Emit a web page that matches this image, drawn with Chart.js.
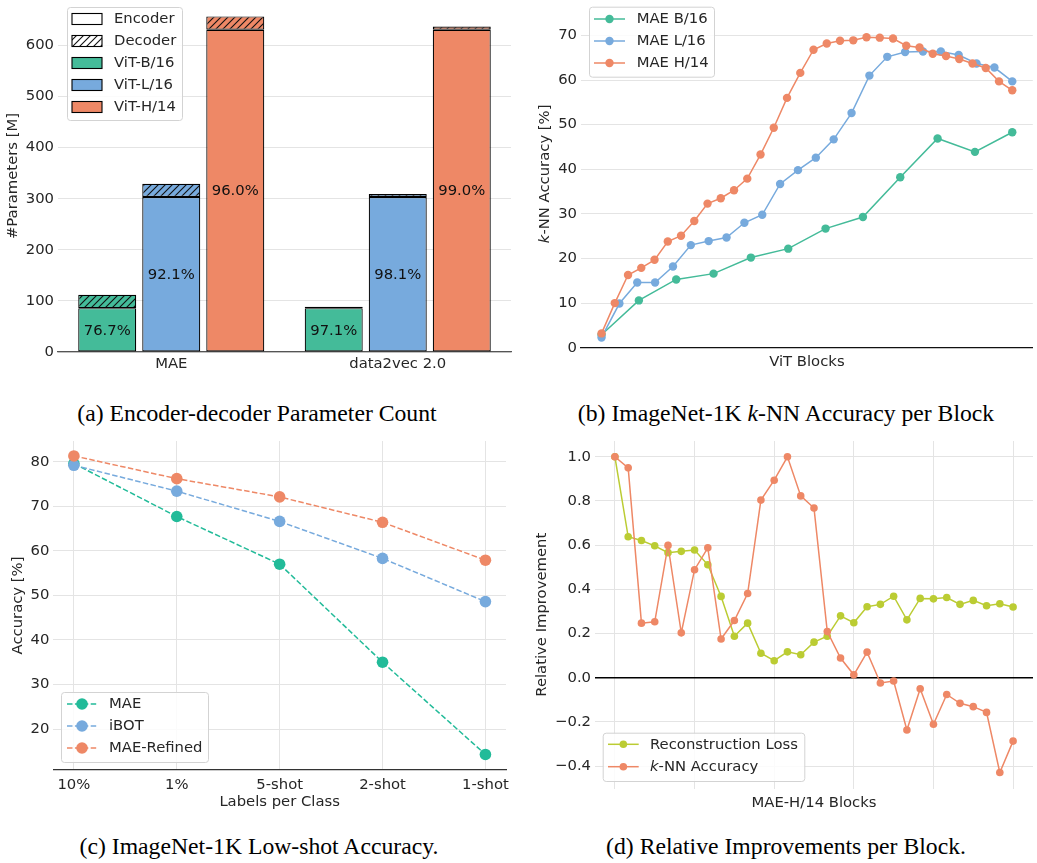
<!DOCTYPE html>
<html><head><meta charset="utf-8">
<script src="https://cdn.jsdelivr.net/npm/chart.js@4.4.1/dist/chart.umd.min.js"></script>
<style>
body{margin:0;background:#fff;width:1037px;height:863px;position:relative;overflow:hidden;}
canvas{position:absolute;display:block;}
.cap{position:absolute;font-family:'Liberation Serif','Times New Roman',serif;font-size:23.7px;line-height:23.7px;white-space:nowrap;transform:translateX(-50%);color:#000;}
</style></head><body>
<canvas id="ca" width="520" height="385" style="left:0;top:0"></canvas>
<canvas id="cb" width="517" height="385" style="left:520px;top:0"></canvas>
<canvas id="cc" width="520" height="385" style="left:0;top:430px"></canvas>
<canvas id="cd" width="517" height="385" style="left:520px;top:430px"></canvas>
<div class="cap" style="left:257px;top:402px">(a) Encoder-decoder Parameter Count</div>
<div class="cap" style="left:786px;top:402px">(b) ImageNet-1K <i>k</i>-NN Accuracy per Block</div>
<div class="cap" style="left:259px;top:835px">(c) ImageNet-1K Low-shot Accuracy.</div>
<div class="cap" style="left:786px;top:835px">(d) Relative Improvements per Block.</div>
<script>
// ---------------- DATA ----------------
const barGroups = ['MAE', 'data2vec 2.0'];
const vitB_encoder = [85.8, 85.8];
const vitB_decoder = [26.1, 2.56];
const vitL_encoder = [303.3, 303.3];
const vitL_decoder = [26.1, 5.87];
const vitH_encoder = [630.8, 630.8];
const vitH_decoder = [26.1, 6.37];
const paramTicks = [0, 100, 200, 300, 400, 500, 600];

const knnB16 = [2.9, 10.6, 15.3, 16.6, 20.2, 22.2, 26.7, 29.3, 38.2, 46.9, 43.9, 48.3];
const knnL16 = [2.3, 9.9, 14.6, 14.6, 18.2, 23.0, 23.9, 24.7, 28.0, 29.8, 36.7, 39.8, 42.6, 46.7, 52.6, 61.0, 65.2, 66.3, 66.4, 66.4, 65.6, 63.7, 62.8, 59.7];
const knnH14 = [3.2, 10.0, 16.3, 17.9, 19.7, 23.8, 25.1, 28.4, 32.3, 33.5, 35.3, 37.9, 43.3, 49.3, 56.0, 61.6, 66.8, 68.2, 68.8, 68.9, 69.6, 69.5, 69.3, 67.7, 67.3, 65.9, 65.4, 64.7, 63.7, 62.7, 59.7, 57.7];

const lowshotLabels = ['10%', '1%', '5-shot', '2-shot', '1-shot'];
const lowshotMAE = [79.6, 67.7, 57.0, 35.0, 14.3];
const lowshotIBOT = [79.2, 73.4, 66.6, 58.3, 48.6];
const lowshotRefined = [81.3, 76.2, 72.1, 66.4, 57.9];

const reconLoss = [1.0, 0.638, 0.621, 0.597, 0.566, 0.572, 0.578, 0.511, 0.368, 0.188, 0.247, 0.111, 0.077, 0.117, 0.104, 0.161, 0.188, 0.280, 0.249, 0.321, 0.332, 0.369, 0.262, 0.359, 0.357, 0.363, 0.332, 0.350, 0.326, 0.335, 0.320];
const knnGain = [1.0, 0.950, 0.247, 0.253, 0.599, 0.203, 0.489, 0.588, 0.175, 0.259, 0.381, 0.804, 0.894, 1.0, 0.823, 0.768, 0.209, 0.089, 0.013, 0.116, -0.024, -0.015, -0.237, -0.050, -0.211, -0.076, -0.116, -0.131, -0.157, -0.429, -0.287];

// ---------------- STYLE ----------------
const GREEN = '#44BB99', BLUE = '#77AADD', ORANGE = '#EE8866', PEAR = '#BBCC33', TEAL = '#22BB99';
const FONT = '"DejaVu Sans", sans-serif';
const FS = 14.8;
const GRID = '#e4e4e4', TXT = '#262626';

function hatch(color) {
  const s = 7, c = document.createElement('canvas'); c.width = s; c.height = s;
  const g = c.getContext('2d');
  g.fillStyle = color; g.fillRect(0, 0, s, s);
  g.strokeStyle = '#111'; g.lineWidth = 1.1;
  g.beginPath();
  g.moveTo(-1, s + 1); g.lineTo(s + 1, -1);
  g.moveTo(-1, 1); g.lineTo(1, -1);
  g.moveTo(s - 1, s + 1); g.lineTo(s + 1, s - 1);
  g.stroke();
  return g.createPattern(c, 'repeat');
}

function fixY(width) {
  return function (s) { s.width = width; s.paddingTop = 0; s.paddingBottom = 0; s.paddingLeft = 0; s.paddingRight = 0; };
}
function fixX(height) {
  return function (s) { s.height = height; s.paddingTop = 0; s.paddingBottom = 0; s.paddingLeft = 0; s.paddingRight = 0; };
}
const tickFont = { family: FONT, size: FS };
const titleFont = { family: FONT, size: FS };

function setFont(ctx, italic) { ctx.font = (italic ? 'italic ' : '') + FS + 'px ' + FONT; }

function drawRich(ctx, parts, x, y) {
  let cx = x;
  for (const p of parts) {
    setFont(ctx, p.it);
    ctx.fillText(p.t, cx, y);
    cx += ctx.measureText(p.t).width;
  }
}
function richWidth(ctx, parts) {
  let w = 0;
  for (const p of parts) { setFont(ctx, p.it); w += ctx.measureText(p.t).width; }
  return w;
}

function roundRect(ctx, x, y, w, h, r) {
  ctx.beginPath();
  ctx.moveTo(x + r, y); ctx.lineTo(x + w - r, y); ctx.arcTo(x + w, y, x + w, y + r, r);
  ctx.lineTo(x + w, y + h - r); ctx.arcTo(x + w, y + h, x + w - r, y + h, r);
  ctx.lineTo(x + r, y + h); ctx.arcTo(x, y + h, x, y + h - r, r);
  ctx.lineTo(x, y + r); ctx.arcTo(x, y, x + r, y, r);
  ctx.closePath();
}

function drawLegend(ctx, L) {
  ctx.save();
  roundRect(ctx, L.x + 0.5, L.y + 0.5, L.w, L.h, 3);
  ctx.fillStyle = 'rgba(255,255,255,0.85)'; ctx.fill();
  ctx.strokeStyle = '#d3d3d3'; ctx.lineWidth = 1; ctx.stroke();
  for (const r of L.rows) {
    if (r.kind === 'box') {
      ctx.fillStyle = r.fill;
      ctx.fillRect(L.s0, r.y - 5.5, L.s1 - L.s0, 11);
      ctx.strokeStyle = '#000'; ctx.lineWidth = 1.1;
      ctx.strokeRect(L.s0, r.y - 5.5, L.s1 - L.s0, 11);
    } else {
      ctx.strokeStyle = r.color; ctx.lineWidth = 1.5;
      ctx.setLineDash(r.dash || []);
      ctx.beginPath(); ctx.moveTo(L.s0, r.y); ctx.lineTo(L.s1, r.y); ctx.stroke();
      ctx.setLineDash([]);
      ctx.fillStyle = r.color;
      ctx.beginPath(); ctx.arc((L.s0 + L.s1) / 2, r.y, L.mr, 0, Math.PI * 2); ctx.fill();
    }
    ctx.fillStyle = TXT; ctx.textBaseline = 'middle'; ctx.textAlign = 'left';
    drawRich(ctx, r.parts, L.tx, r.y + 0.5);
  }
  ctx.restore();
}

function legendPlugin(L) {
  return { id: 'lg', afterDraw(chart) { drawLegend(chart.ctx, L); } };
}

Chart.defaults.animation = false;
Chart.defaults.events = [];
Chart.defaults.font.family = FONT;
Chart.defaults.plugins.legend.display = false;
Chart.defaults.plugins.tooltip.enabled = false;

// ---------------- (a) bars ----------------
(function () {
  const W = 520, H = 385, area = { left: 58, right: 511, top: 0, bottom: 352 };
  const pairs = [
    { enc: vitB_encoder, dec: vitB_decoder, color: GREEN, name: 'ViT-B/16', stack: 'B' },
    { enc: vitL_encoder, dec: vitL_decoder, color: BLUE, name: 'ViT-L/16', stack: 'L' },
    { enc: vitH_encoder, dec: vitH_decoder, color: ORANGE, name: 'ViT-H/14', stack: 'H' },
  ];
  const datasets = [];
  pairs.forEach(p => {
    const common = { stack: p.stack, borderColor: '#000', borderWidth: 1.2, borderSkipped: false, categoryPercentage: 0.848, barPercentage: 0.906 };
    datasets.push(Object.assign({ label: p.name + ' encoder', data: p.enc, backgroundColor: p.color }, common));
    datasets.push(Object.assign({ label: p.name + ' decoder', data: p.dec, backgroundColor: hatch(p.color) }, common));
  });
  const labelPlugin = {
    id: 'barLabels',
    afterDatasetsDraw(chart) {
      const ctx = chart.ctx;
      ctx.save();
      ctx.font = FS + 'px ' + FONT; ctx.fillStyle = '#111'; ctx.textAlign = 'center'; ctx.textBaseline = 'middle';
      pairs.forEach((p, k) => {
        const meta = chart.getDatasetMeta(2 * k);
        meta.data.forEach((el, i) => {
          const pct = p.enc[i] / (p.enc[i] + p.dec[i]) * 100;
          ctx.fillText(pct.toFixed(1) + '%', el.x, (el.y + el.base) / 2 + 1);
        });
      });
      ctx.restore();
    }
  };
  const legend = {
    x: 67, y: 7, w: 115, h: 113, s0: 72, s1: 102, tx: 114, mr: 0,
    rows: [
      { y: 19, kind: 'box', fill: '#ffffff', parts: [{ t: 'Encoder' }] },
      { y: 41, kind: 'box', fill: hatch('#ffffff'), parts: [{ t: 'Decoder' }] },
      { y: 63, kind: 'box', fill: GREEN, parts: [{ t: 'ViT-B/16' }] },
      { y: 85, kind: 'box', fill: BLUE, parts: [{ t: 'ViT-L/16' }] },
      { y: 107, kind: 'box', fill: ORANGE, parts: [{ t: 'ViT-H/14' }] },
    ]
  };
  new Chart(document.getElementById('ca'), {
    type: 'bar',
    data: { labels: barGroups, datasets },
    options: {
      responsive: false,
      layout: { padding: { left: 0, top: area.top, right: W - area.right, bottom: 0 } },
      scales: {
        x: {
          stacked: true, afterFit: fixX(H - area.bottom),
          grid: { display: false, drawTicks: false },
          border: { display: true, color: '#555', width: 1.3 },
          ticks: { font: tickFont, color: TXT, padding: 3 }
        },
        y: {
          stacked: true, min: 0, max: 689, afterFit: fixY(area.left),
          afterBuildTicks(s) { s.ticks = paramTicks.map(v => ({ value: v })); },
          grid: { color: GRID, drawTicks: false },
          border: { display: false },
          ticks: { font: tickFont, color: TXT, padding: 4 },
          title: { display: true, text: '#Parameters [M]', font: titleFont, color: TXT, padding: { top: 4.3, bottom: 0 } }
        }
      }
    },
    plugins: [labelPlugin, legendPlugin(legend)]
  });
})();

// ---------------- (b) kNN per block ----------------
(function () {
  const W = 517, H = 385, area = { left: 61, right: 517, top: 0, bottom: 347.7 };
  const toXY = arr => arr.map((v, i) => ({ x: i / (arr.length - 1), y: v }));
  const ds = (label, arr, color, order) => ({
    label, data: toXY(arr), showLine: true, borderColor: color, backgroundColor: color,
    pointBackgroundColor: color, pointBorderWidth: 0, pointRadius: 4.2, borderWidth: 1.5, tension: 0, order
  });
  const legend = {
    x: 69, y: 6.7, w: 125, h: 70, s0: 74, s1: 105, tx: 116.7, mr: 4.2,
    rows: [
      { y: 19, kind: 'line', color: GREEN, parts: [{ t: 'MAE B/16' }] },
      { y: 41, kind: 'line', color: BLUE, parts: [{ t: 'MAE L/16' }] },
      { y: 63, kind: 'line', color: ORANGE, parts: [{ t: 'MAE H/14' }] },
    ]
  };
  const ytitle = {
    id: 'ytitle',
    afterDraw(chart) {
      const ctx = chart.ctx, parts = [{ t: 'k', it: true }, { t: '-NN Accuracy [%]' }];
      ctx.save();
      ctx.translate(25, (area.top + area.bottom) / 2);
      ctx.rotate(-Math.PI / 2);
      ctx.fillStyle = TXT; ctx.textBaseline = 'middle'; ctx.textAlign = 'left';
      const w = richWidth(ctx, parts);
      drawRich(ctx, parts, -w / 2, 0);
      ctx.restore();
    }
  };
  new Chart(document.getElementById('cb'), {
    type: 'scatter',
    data: { datasets: [ds('MAE B/16', knnB16, GREEN, 2), ds('MAE L/16', knnL16, BLUE, 1), ds('MAE H/14', knnH14, ORANGE, 0)] },
    options: {
      responsive: false,
      layout: { padding: { left: 0, top: area.top, right: W - area.right, bottom: 0 } },
      scales: {
        x: {
          type: 'linear', min: -0.05, max: 1.05, afterFit: fixX(H - area.bottom),
          grid: { display: false, drawTicks: false },
          border: { display: true, color: '#111', width: 1.3 },
          ticks: { display: false },
          title: { display: true, text: 'ViT Blocks', font: titleFont, color: TXT, padding: { top: 0, bottom: 14.3 } }
        },
        y: {
          min: 0, max: 77, afterFit: fixY(area.left),
          grid: { color: GRID, drawTicks: false },
          border: { display: false },
          ticks: { font: tickFont, color: TXT, padding: 4, stepSize: 10, includeBounds: false }
        }
      }
    },
    plugins: [ytitle, legendPlugin(legend)]
  });
})();

// ---------------- (c) low-shot ----------------
(function () {
  const W = 520, H = 385, area = { left: 53.3, right: 506, top: 11, bottom: 340 };
  const dash = [5.5, 2.4];
  const ds = (label, arr, color, order) => ({
    label, data: arr.map((v, i) => ({ x: i, y: v })), showLine: true, borderColor: color, backgroundColor: color,
    pointBackgroundColor: color, pointBorderWidth: 0, pointRadius: 5.8, borderWidth: 1.5, borderDash: dash, tension: 0, order
  });
  const legend = {
    x: 61, y: 262, w: 147, h: 70, s0: 67, s1: 97, tx: 109, mr: 5.8,
    rows: [
      { y: 274, kind: 'line', color: TEAL, dash, parts: [{ t: 'MAE' }] },
      { y: 296, kind: 'line', color: BLUE, dash, parts: [{ t: 'iBOT' }] },
      { y: 318, kind: 'line', color: ORANGE, dash, parts: [{ t: 'MAE-Refined' }] },
    ]
  };
  new Chart(document.getElementById('cc'), {
    type: 'scatter',
    data: { datasets: [ds('MAE', lowshotMAE, TEAL, 2), ds('iBOT', lowshotIBOT, BLUE, 1), ds('MAE-Refined', lowshotRefined, ORANGE, 0)] },
    options: {
      responsive: false,
      layout: { padding: { left: 0, top: area.top, right: W - area.right, bottom: 0 } },
      scales: {
        x: {
          type: 'linear', min: -0.2, max: 4.2, afterFit: fixX(H - area.bottom),
          grid: { color: GRID, drawTicks: false },
          border: { display: true, color: '#333', width: 1.3 },
          ticks: { font: tickFont, color: TXT, padding: 6, stepSize: 1, includeBounds: false, callback: v => lowshotLabels[v] },
          title: { display: true, text: 'Labels per Class', font: titleFont, color: TXT, padding: { top: 0, bottom: 3.6 } }
        },
        y: {
          min: 10.81, max: 84.65, afterFit: fixY(area.left),
          grid: { color: GRID, drawTicks: false },
          border: { display: false },
          ticks: { font: tickFont, color: TXT, padding: 4, stepSize: 10, includeBounds: false },
          title: { display: true, text: 'Accuracy [%]', font: titleFont, color: TXT, padding: { top: 9.3, bottom: 0 } }
        }
      }
    },
    plugins: [legendPlugin(legend)]
  });
})();

// ---------------- (d) relative improvement ----------------
(function () {
  const W = 517, H = 385, area = { left: 75, right: 517, top: 11, bottom: 358.5 };
  const toXY = arr => arr.map((v, i) => ({ x: i / (arr.length - 1), y: v }));
  const ds = (label, arr, color, order) => ({
    label, data: toXY(arr), showLine: true, borderColor: color, backgroundColor: color,
    pointBackgroundColor: color, pointBorderWidth: 0, pointRadius: 3.8, borderWidth: 1.5, tension: 0, order
  });
  const legend = {
    x: 82.7, y: 302.7, w: 201.6, h: 48.3, s0: 88, s1: 118.7, tx: 130, mr: 3.8,
    rows: [
      { y: 314.3, kind: 'line', color: PEAR, parts: [{ t: 'Reconstruction Loss' }] },
      { y: 336.7, kind: 'line', color: ORANGE, parts: [{ t: 'k', it: true }, { t: '-NN Accuracy' }] },
    ]
  };
  const zeroLine = {
    id: 'zero',
    beforeDatasetsDraw(chart) {
      const ctx = chart.ctx, y = chart.scales.y.getPixelForValue(0), a = chart.chartArea;
      ctx.save(); ctx.strokeStyle = '#000'; ctx.lineWidth = 1.5;
      ctx.beginPath(); ctx.moveTo(a.left, y); ctx.lineTo(a.right, y); ctx.stroke(); ctx.restore();
    }
  };
  new Chart(document.getElementById('cd'), {
    type: 'scatter',
    data: { datasets: [ds('Reconstruction Loss', reconLoss, PEAR, 1), ds('k-NN Accuracy', knnGain, ORANGE, 0)] },
    options: {
      responsive: false,
      layout: { padding: { left: 0, top: area.top, right: W - area.right, bottom: 0 } },
      scales: {
        x: {
          type: 'linear', min: -0.05, max: 1.05, afterFit: fixX(H - area.bottom),
          grid: { color: GRID, drawTicks: false },
          border: { display: false },
          ticks: { display: false, stepSize: 0.2, includeBounds: false },
          title: { display: true, text: 'MAE-H/14 Blocks', font: titleFont, color: TXT, padding: { top: 0, bottom: 3.3 } }
        },
        y: {
          min: -0.5015, max: 1.0715, afterFit: fixY(area.left),
          grid: { color: c => (Math.abs(c.tick.value) < 1e-9 ? 'rgba(0,0,0,0)' : GRID), drawTicks: false },
          border: { display: false },
          ticks: { font: tickFont, color: TXT, padding: 4, stepSize: 0.2, includeBounds: false,
                   callback: v => v.toFixed(1).replace('-', '\u2212') },
          title: { display: true, text: 'Relative Improvement', font: titleFont, color: TXT, padding: { top: 13.6, bottom: 0 } }
        }
      }
    },
    plugins: [zeroLine, legendPlugin(legend)]
  });
})();
</script>
</body></html>
